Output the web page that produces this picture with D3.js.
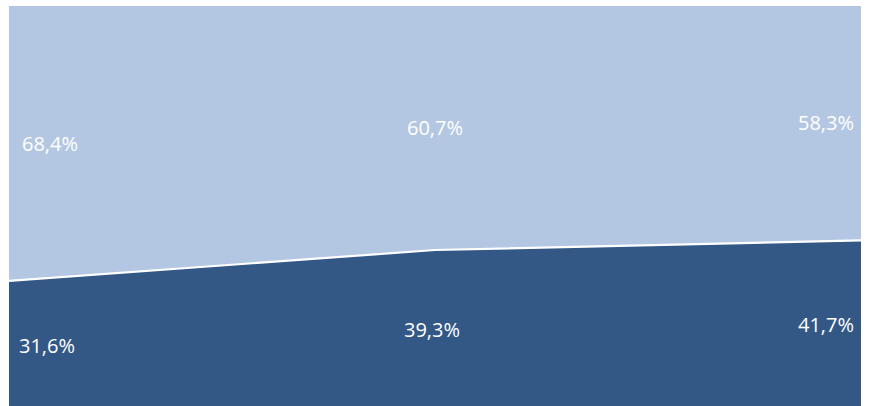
<!DOCTYPE html>
<html><head><meta charset="utf-8">
<script src="https://cdn.jsdelivr.net/npm/d3@7"></script>
<style>html,body{margin:0;padding:0;background:#fff;}svg{display:block;}</style>
</head><body>
<svg id="chart" width="870" height="406"></svg>
<script>
const categories = ["A", "B", "C"];
const seriesNames = ["bottom", "top"];
const bottomValues = [31.6, 39.3, 41.7];
const topValues = [68.4, 60.7, 58.3];
const bottomLabels = ["31,6%", "39,3%", "41,7%"];
const topLabels = ["68,4%", "60,7%", "58,3%"];

(function () {
const colors = {bottom: "#335886", top: "#b3c7e2"};
const svg = d3.select("#chart");
const mLeft = 9, mRight = 861, mTop = 6, mBottom = 408;

const x = d3.scalePoint().domain(categories).range([mLeft, mRight]);
const y = d3.scaleLinear().domain([0, 100]).range([mBottom, mTop]);

const rows = categories.map((c, i) => ({cat: c, bottom: bottomValues[i], top: topValues[i]}));
const stack = d3.stack().keys(seriesNames)(rows);

const area = d3.area().x(d => x(d.data.cat)).y0(d => y(d[0])).y1(d => y(d[1]));
svg.selectAll("path.area").data(stack).join("path")
  .attr("class", "area")
  .attr("d", area)
  .attr("fill", d => colors[d.key]);

const line = d3.line().x(d => x(d.data.cat)).y(d => y(d[1]));
svg.append("path").attr("d", line(stack[0]))
  .attr("fill", "none").attr("stroke", "#fff").attr("stroke-width", 2.2);

const anchors = ["start", "middle", "end"];
function addLabels(layer, labels, offs, dys) {
  svg.append("g").selectAll("text").data(layer).join("text")
    .attr("x", (d, i) => x(d.data.cat) + offs[i])
    .attr("y", (d, i) => (y(d[0]) + y(d[1])) / 2 + dys[i])
    .attr("dy", "0.35em")
    .attr("text-anchor", (d, i) => anchors[i])
    .attr("fill", "#fff")
    .style("font-family", "'Open Sans', sans-serif")
    .style("font-size", "20px")
    .text((d, i) => labels[i]);
}
addLabels(stack[0], bottomLabels, [10, -3, -7], [2, 1, 1]);
addLabels(stack[1], topLabels, [13, 0, -7], [1, 0, 0]);
})();
</script>
</body></html>
